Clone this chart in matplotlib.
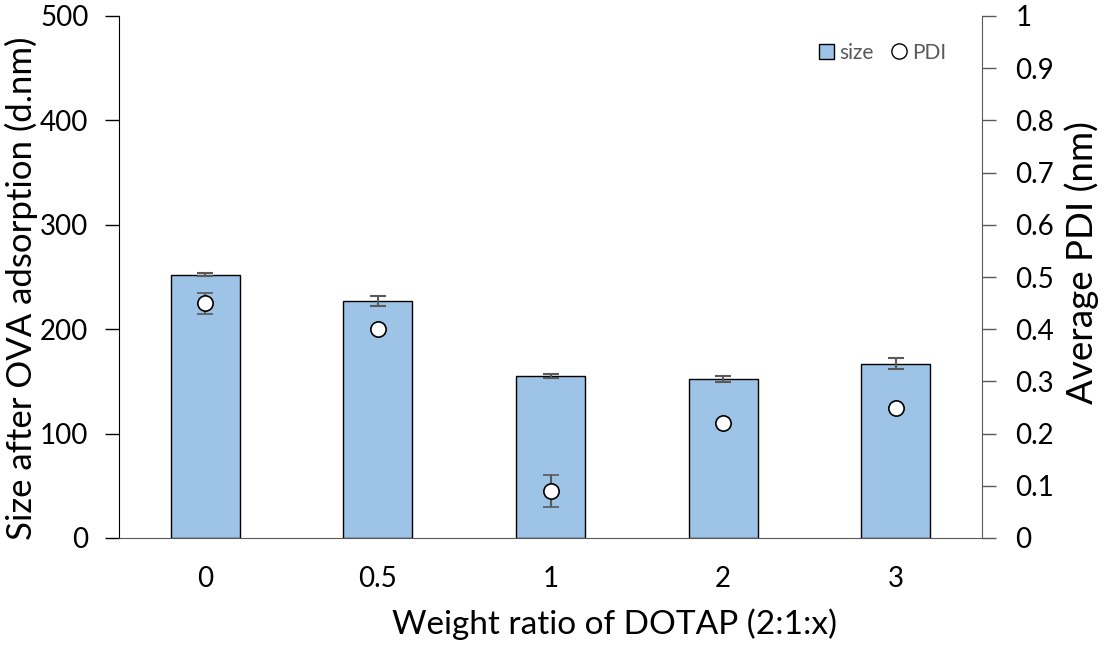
import numpy as np
import matplotlib.pyplot as plt
from matplotlib.lines import Line2D
from matplotlib.patches import Patch

plt.rcParams['font.family'] = ['Lato', 'DejaVu Sans']

# data
ratios = ['0', '0.5', '1', '2', '3']
size = [252, 227, 155, 152, 167]
size_err = [1.5, 5, 2, 3, 5]
pdi = [0.45, 0.40, 0.09, 0.22, 0.25]
pdi_err = [0.02, 0.0, 0.03, 0.0, 0.0]

x = np.arange(len(ratios))
grey = '#595959'
blue = '#9DC3E6'

fig = plt.figure(figsize=(11.07, 6.46), dpi=100)
ax = fig.add_axes([119 / 1107, 1 - 538 / 646, (982 - 119) / 1107, (538 - 16) / 646])
ax2 = ax.twinx()

ax.bar(x, size, width=0.4, color=blue, edgecolor='black', linewidth=1,
       yerr=size_err, error_kw=dict(ecolor=grey, elinewidth=1.5, capsize=6, capthick=1.5),
       zorder=2)
ax2.errorbar(x, pdi, yerr=pdi_err, fmt='o', color=grey, elinewidth=1.5, capsize=6,
             capthick=1.5, markerfacecolor='white', markeredgecolor='black',
             markeredgewidth=1.2, markersize=11, zorder=3)

ax.set_xlim(-0.5, len(ratios) - 0.5)
ax.set_ylim(0, 500)
ax.set_yticks(np.arange(0, 501, 100))
ax2.set_ylim(0, 1)
ticks2 = np.round(np.arange(0, 1.01, 0.1), 1)
ax2.set_yticks(ticks2)
ax2.set_yticklabels(['0' if t == 0 else ('1' if t == 1 else f'{t:g}') for t in ticks2])

ax.set_xticks(x)
ax.set_xticklabels(ratios)
ax.tick_params(axis='x', length=0, labelsize=20, pad=20)
ax.tick_params(axis='y', length=10, width=1, labelsize=20, direction='out', pad=12)
ax2.tick_params(axis='y', length=10, width=1, labelsize=20, color=grey, direction='out', pad=14)

for a in (ax, ax2):
    a.spines['top'].set_visible(False)
ax.spines['right'].set_visible(False)
ax2.spines['left'].set_visible(False)
ax2.spines['bottom'].set_visible(False)
ax2.spines['right'].set_color(grey)
ax.spines['bottom'].set_color(grey)

ax.set_xlabel('Weight ratio of DOTAP (2:1:x)', fontsize=24)
ax.xaxis.set_label_coords(0.574, -0.135)
ax.set_ylabel('Size after OVA adsorption (d.nm)', fontsize=25)
ax.yaxis.set_label_coords(-0.094, 0.479)
ax2.set_ylabel('Average PDI (nm)', fontsize=26.5)
ax2.yaxis.set_label_coords(1.096, 0.527)

handles = [Patch(facecolor=blue, edgecolor='black', linewidth=1),
           Line2D([], [], marker='o', linestyle='none', markerfacecolor='white',
                  markeredgecolor='black', markersize=11)]
ax2.legend(handles, ['size', 'PDI'], loc='upper right', bbox_to_anchor=(0.98, 0.985), ncol=2,
           frameon=False, fontsize=15, labelcolor=grey, handlelength=0.7,
           handletextpad=0.25, columnspacing=0.9)

fig.savefig('out.png', dpi=100)
